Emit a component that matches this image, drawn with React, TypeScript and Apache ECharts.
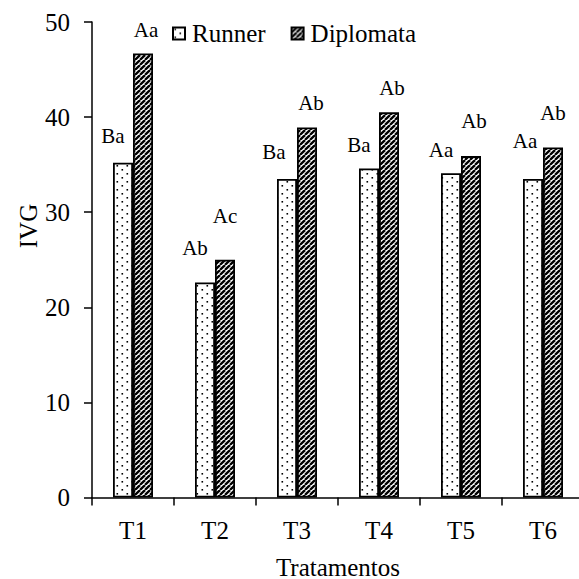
import React, { useEffect, useRef } from "react";
import * as echarts from "echarts";

// Treatments on the x axis
const treatments = ["T1", "T2", "T3", "T4", "T5", "T6"];

// IVG per treatment for each cultivar
const runnerValues = [35.2, 22.6, 33.5, 34.6, 34.1, 33.5];
const diplomataValues = [46.7, 25.0, 38.9, 40.5, 35.9, 36.8];

// Mean-comparison letters written above each bar
const runnerLetters = ["Ba", "Ab", "Ba", "Ba", "Aa", "Aa"];
const diplomataLetters = ["Aa", "Ac", "Ab", "Ab", "Ab", "Ab"];

const yTicks = [0, 10, 20, 30, 40, 50];

// Hand placement of the letter labels: [horizontal shift, gap above bar]
const runnerLabelNudge: [number, number][] = [
  [-10, 19], [-10, 27], [-13, 19], [-10, 16], [-10, 16], [-8, 30],
];
const diplomataLabelNudge: [number, number][] = [
  [3, 16], [0, 36], [4, 17.5], [3, 17], [3, 28], [0, 27],
];

const FONT = "Liberation Serif";

function dotTile(): HTMLCanvasElement {
  const c = document.createElement("canvas");
  c.width = 10;
  c.height = 8;
  const ctx = c.getContext("2d")!;
  ctx.fillStyle = "#ffffff";
  ctx.fillRect(0, 0, 10, 8);
  ctx.fillStyle = "#000000";
  ctx.fillRect(1.5, 1, 1.6, 1.6);
  ctx.fillRect(6.5, 5, 1.6, 1.6);
  return c;
}

function stripeTile(): HTMLCanvasElement {
  const s = 5;
  const c = document.createElement("canvas");
  c.width = s;
  c.height = s;
  const ctx = c.getContext("2d")!;
  ctx.fillStyle = "#ffffff";
  ctx.fillRect(0, 0, s, s);
  ctx.strokeStyle = "#000000";
  ctx.lineWidth = 2.3;
  for (let k = -1; k <= 1; k++) {
    ctx.beginPath();
    ctx.moveTo(k * s, s);
    ctx.lineTo(k * s + s, 0);
    ctx.stroke();
  }
  return c;
}

function makePattern(canvas: HTMLCanvasElement) {
  return {
    image: canvas,
    repeat: "repeat",
    imageWidth: canvas.width,
    imageHeight: canvas.height,
  } as any;
}

function labelledData(
  values: number[],
  letters: string[],
  nudges: [number, number][]
) {
  return values.map((v, i) => ({
    value: v,
    label: {
      formatter: letters[i],
      distance: nudges[i][1] - 3,
      offset: [nudges[i][0], 0],
    },
  }));
}

export default function App() {
  const ref = useRef<HTMLDivElement>(null);

  useEffect(() => {
    document.body.style.margin = "0";
    if (!ref.current) return;
    const chart = echarts.init(ref.current, null, { renderer: "svg" });

    const dots = makePattern(dotTile());
    const stripes = makePattern(stripeTile());

    const barLabel = {
      show: true,
      position: "top",
      color: "#000",
      fontFamily: FONT,
      fontSize: 21,
    };

    chart.setOption({
      animation: false,
      backgroundColor: "#ffffff",
      textStyle: { fontFamily: FONT, color: "#000" },
      grid: {
        left: 92,
        right: -5,
        top: 22,
        bottom: 81.5,
        containLabel: false,
        outerBoundsMode: "none",
      },
      legend: {
        data: ["Runner", "Diplomata"],
        left: 172,
        top: 21,
        padding: 0,
        icon: "rect",
        itemWidth: 12,
        itemHeight: 12,
        itemGap: 25,
        textStyle: {
          fontFamily: FONT,
          fontSize: 25,
          color: "#000",
          padding: [0, 0, 0, 2],
        },
      },
      xAxis: {
        type: "category",
        data: treatments,
        name: "Tratamentos",
        nameLocation: "middle",
        nameGap: 57,
        nameTextStyle: { fontFamily: FONT, fontSize: 25, color: "#000" },
        axisLine: { lineStyle: { color: "#000", width: 1.5 } },
        axisTick: { show: true, alignWithLabel: false, length: 8, lineStyle: { color: "#000", width: 1.5 } },
        axisLabel: { fontFamily: FONT, fontSize: 25, color: "#000", margin: 20 },
        splitLine: { show: false },
      },
      yAxis: {
        type: "value",
        min: yTicks[0],
        max: yTicks[yTicks.length - 1],
        interval: 10,
        axisLine: { show: true, lineStyle: { color: "#000", width: 1.5 } },
        axisTick: { show: true, length: 8, lineStyle: { color: "#000", width: 1.5 } },
        axisLabel: { fontFamily: FONT, fontSize: 25, color: "#000", margin: 22 },
        splitLine: { show: false },
      },
      graphic: [
        {
          type: "text",
          x: 28,
          y: 226,
          rotation: Math.PI / 2,
          style: {
            text: "IVG",
            fontFamily: FONT,
            fontSize: 25,
            fill: "#000",
            textAlign: "center",
            textVerticalAlign: "middle",
          },
        },
      ],
      series: [
        {
          name: "Runner",
          type: "bar",
          barWidth: 20,
          barGap: "0%",
          itemStyle: { color: dots, borderColor: "#000", borderWidth: 1.8 },
          label: barLabel,
          data: labelledData(runnerValues, runnerLetters, runnerLabelNudge),
        },
        {
          name: "Diplomata",
          type: "bar",
          barWidth: 20,
          barGap: "0%",
          itemStyle: { color: stripes, borderColor: "#000", borderWidth: 1.8 },
          label: barLabel,
          data: labelledData(diplomataValues, diplomataLetters, diplomataLabelNudge),
        },
      ],
    });

    return () => chart.dispose();
  }, []);

  return (
    <div
      ref={ref}
      style={{ position: "fixed", left: 0, top: 0, width: 579, height: 579 }}
    />
  );
}
